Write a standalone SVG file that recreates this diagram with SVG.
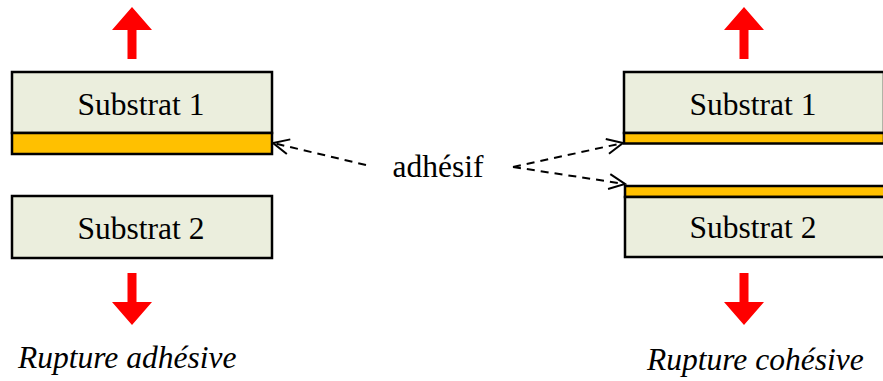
<svg xmlns="http://www.w3.org/2000/svg" width="883" height="381" viewBox="0 0 883 381">
<style>
.sub{fill:#EBEEDD;stroke:#000;stroke-width:2.5}
.adh{fill:#FFC000;stroke:#000;stroke-width:2.5}
.force{fill:#FF0000}
.lbl{font-family:"Liberation Serif","Times New Roman",serif;font-size:31.5px;fill:#000}
.cap{font-family:"Liberation Serif","Times New Roman",serif;font-size:31.5px;font-style:italic;fill:#000}
.dash{fill:none;stroke:#000;stroke-width:2;stroke-dasharray:8 6}
</style>
<defs>
<marker id="open" viewBox="0 0 20 20" refX="18" refY="10" markerWidth="20" markerHeight="20" markerUnits="userSpaceOnUse" orient="auto">
<path d="M2,2.5 L18,10 L2,17.5" fill="none" stroke="#000" stroke-width="2"/>
</marker>
</defs>
<g id="left-substrat1">
<rect class="sub" x="12" y="72" width="260" height="61"/>
<rect class="adh" x="12" y="133" width="260" height="21"/>
<text class="lbl" x="141" y="115" text-anchor="middle">Substrat 1</text>
</g>
<g id="left-substrat2">
<rect class="sub" x="12" y="196" width="260" height="62"/>
<text class="lbl" x="141" y="239" text-anchor="middle">Substrat 2</text>
</g>
<g id="left-force-up"><polygon class="force" points="132,7 152,30 136.5,30 136.5,59 127.5,59 127.5,30 112,30"/></g>
<g id="left-force-down"><polygon class="force" points="132,325 152,302 136.5,302 136.5,273 127.5,273 127.5,302 112,302"/></g>
<g id="right-substrat1">
<rect class="sub" x="624" y="72" width="260" height="61"/>
<rect class="adh" x="624" y="133" width="260" height="10.5"/>
<text class="lbl" x="753" y="115" text-anchor="middle">Substrat 1</text>
</g>
<g id="right-substrat2">
<rect class="adh" x="625" y="186" width="260" height="11"/>
<rect class="sub" x="625" y="197" width="260" height="60"/>
<text class="lbl" x="753" y="238" text-anchor="middle">Substrat 2</text>
</g>
<g id="right-force-up"><polygon class="force" points="744,7 764,30 748.5,30 748.5,59 739.5,59 739.5,30 724,30"/></g>
<g id="right-force-down"><polygon class="force" points="744,325 764,302 748.5,302 748.5,273 739.5,273 739.5,302 724,302"/></g>
<g id="adhesif">
<text class="lbl" x="438" y="177" text-anchor="middle">adhésif</text>
</g>
<g id="connectors">
<line class="dash" x1="366" y1="165" x2="273" y2="143" marker-end="url(#open)"/>
<line class="dash" x1="513" y1="167" x2="623" y2="143" marker-end="url(#open)"/>
<line class="dash" x1="513" y1="167" x2="625" y2="184" marker-end="url(#open)"/>
</g>
<g id="captions">
<text class="cap" x="18" y="368">Rupture adhésive</text>
<text class="cap" x="647" y="370">Rupture cohésive</text>
</g>
</svg>
